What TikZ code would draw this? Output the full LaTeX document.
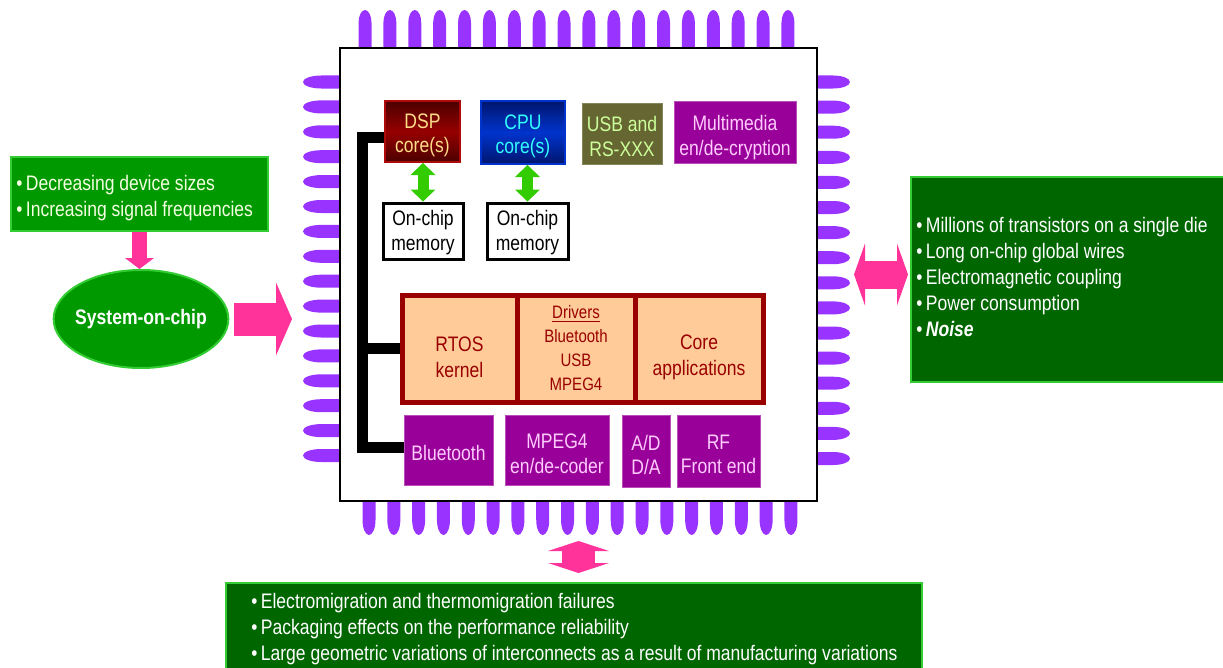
\documentclass[tikz,border=0pt]{standalone}
\usepackage{fontspec}
\setmainfont{Liberation Sans}[FakeStretch=0.835]
\usetikzlibrary{arrows.meta,shapes.geometric}

\definecolor{pinviolet}{RGB}{153,51,255}
\definecolor{dspred}{RGB}{175,10,10}
\definecolor{dspdark}{RGB}{75,0,0}
\definecolor{dspmid}{RGB}{150,0,0}
\definecolor{dsptext}{RGB}{255,221,136}
\definecolor{cpublue}{RGB}{0,51,204}
\definecolor{cpudark}{RGB}{0,22,110}
\definecolor{cputext}{RGB}{51,255,255}
\definecolor{usbolive}{RGB}{102,102,51}
\definecolor{usbtext}{RGB}{204,255,153}
\definecolor{mmpurple}{RGB}{153,0,153}
\definecolor{mmtext}{RGB}{255,204,255}
\definecolor{osorange}{RGB}{255,204,153}
\definecolor{osred}{RGB}{153,0,0}
\definecolor{memgreen}{RGB}{51,204,0}
\definecolor{hotpink}{RGB}{255,51,153}
\definecolor{leafgreen}{RGB}{0,153,0}
\definecolor{darkleaf}{RGB}{0,102,0}
\definecolor{limegreen}{RGB}{51,204,51}
\definecolor{paletext}{RGB}{245,255,225}

\begin{document}
\begin{tikzpicture}[x=0.75pt,y=0.75pt,yscale=-1,
  every node/.style={inner sep=0pt, align=center, font=\fontsize{15.75}{18.5}\selectfont},
  pin/.style={fill=pinviolet},
  chipbox/.style={draw=black, line width=1.5pt, fill=white},
  dspbox/.style={draw=dspred, line width=1.5pt, top color=dspdark, bottom color=dspdark, middle color=dspmid, text=dsptext},
  cpubox/.style={draw=cpublue, line width=1.5pt, top color=cpudark, bottom color=cpudark, middle color=cpublue, text=cputext},
  usbbox/.style={draw=usbolive!80!white, line width=0.75pt, fill=usbolive, text=usbtext},
  mmbox/.style={draw=mmpurple!70!white, line width=0.75pt, fill=mmpurple, text=mmtext},
  membox/.style={draw=black, line width=2.25pt, fill=white, text=black},
  swbox/.style={draw=osred, line width=3.75pt, fill=osorange, text=osred, minimum height=80.25pt, font=\fontsize{15.75}{19.5}\selectfont},
  trendbox/.style={draw=limegreen, line width=1.5pt, fill=leafgreen},
  issuebox/.style={draw=limegreen, line width=1.5pt, fill=darkleaf},
  listtext/.style={anchor=west, align=left, font=\fontsize{15.75}{19.5}\selectfont},
  bus/.style={draw=black, line width=8.25pt, line join=miter},
  memlink/.style={draw=memgreen, line width=8.25pt, {Triangle[width=18.75pt,length=9pt,line width=0pt 0 0]}-{Triangle[width=18.75pt,length=9pt,line width=0pt 0 0]}}
]
\useasboundingbox (0,0) rectangle (1223,667);

% pins on the four sides
\foreach \i in {0,...,17} {
  \fill[pin] ({358.5+24.88*\i},48) -- ++(0,-25) arc[start angle=180, end angle=360, x radius=6.5, y radius=13] -- ++(0,25) -- cycle;
  \fill[pin] ({362.5+24.82*\i},501) -- ++(0,19) arc[start angle=180, end angle=0, x radius=6.5, y radius=15] -- ++(0,-19) -- cycle;
}
\foreach \j in {0,...,15} {
  \fill[pin] (340,{75.5+24.9*\j}) -- ++(-19,0) arc[start angle=270, end angle=90, x radius=18, y radius=6.5] -- ++(19,0) -- cycle;
  \fill[pin] (817,{75.5+25.1*\j}) -- ++(16,0) arc[start angle=-90, end angle=90, x radius=17, y radius=6.5] -- ++(-16,0) -- cycle;
}

% chip
\node[chipbox, minimum width=357.75pt, minimum height=339.75pt] (chip) at (578.5,274.5) {};

% Text Node
\node[dspbox, minimum width=56.25pt, minimum height=45.75pt, text height=35.4pt] (dsp) at (422.5,131.5) {DSP\\core(s)};
\node[cpubox, minimum width=63pt, minimum height=47.25pt, text height=35.4pt] (cpu) at (523,132.5) {CPU\\core(s)};
\node[usbbox, minimum width=60pt, minimum height=45.75pt, text height=34.6pt] (usb) at (622,133.5) {USB and\\RS-XXX};
\node[mmbox, minimum width=91.5pt, minimum height=46.5pt, text height=38.2pt] (crypt) at (735,132) {Multimedia\\en/de-cryption};

% Text Node
\node[membox, minimum width=60pt, minimum height=42pt, text height=32.4pt] (dspmem) at (423,231) {On-chip\\memory};
\node[membox, minimum width=60.75pt, minimum height=42pt, text height=32.4pt] (cpumem) at (527.5,231) {On-chip\\memory};

% Text Node
\node[swbox, minimum width=86.25pt, text height=43.5pt] (rtos) at (459.5,348.5) {RTOS\\kernel};
\node[swbox, minimum width=88.5pt, font=\fontsize{13.5}{18}\selectfont] (drivers) at (576,348.5) {\underline{Drivers}\\Bluetooth\\USB\\MPEG4};
\node[swbox, minimum width=96pt, text height=44.5pt] (apps) at (699,348.5) {Core\\applications};

% Text Node
\node[mmbox, minimum width=66.75pt, minimum height=52.5pt, text height=15.2pt] (bt) at (448.5,450) {Bluetooth};
\node[mmbox, minimum width=78pt, minimum height=52.5pt, text height=35.4pt] (codec) at (557,450) {MPEG4\\en/de-coder};
\node[mmbox, minimum width=36pt, minimum height=54pt, text height=36pt] (adda) at (646,451) {A/D\\D/A};
\node[mmbox, minimum width=62.25pt, minimum height=54pt, text height=34.6pt] (rf) at (718.5,451) {RF\\Front end};

%Straight Lines
\coordinate (bustop) at (362,137);
\coordinate (busbot) at (362,447);
\draw[bus] (dsp.west |- bustop) -- (bustop) -- (busbot) -- (bt.west |- busbot);
\draw[bus] (rtos.west -| bustop) -- (rtos.west);

%Straight Lines
\draw[memlink] (dspmem.north |- dsp.south) -- (dspmem.north);
\draw[memlink] (cpumem.north |- cpu.south) -- (cpumem.north);

% left side
\node[trendbox, minimum width=192.75pt, minimum height=55.5pt] (trends) at (139.5,194) {};
\node[listtext, text=paletext] (trendtxt) at (16,198) {\textbullet\,Decreasing device sizes\\\textbullet\,Increasing signal frequencies};
\node[ellipse, draw=limegreen, line width=1.5pt, fill=leafgreen, inner xsep=-3pt, minimum width=130.5pt, minimum height=73.5pt, text=white] (soc) at (141,319) {\textbf{System-on-chip}};

% right side
\node[issuebox, minimum width=237.75pt, minimum height=153.75pt] (ondie) at (1069.5,279.5) {};
\node[listtext, text=white] (ondietxt) at (916,277) {\textbullet\,Millions of transistors on a single die\\\textbullet\,Long on-chip global wires\\\textbullet\,Electromagnetic coupling\\\textbullet\,Power consumption\\\textbullet\,\textbf{\textit{Noise}}};

% bottom
\node[issuebox, minimum width=522pt, minimum height=66.75pt] (package) at (574,627.5) {};
\node[listtext, text=white] (packagetxt) at (251,629) {\textbullet\,Electromigration and thermomigration failures\\\textbullet\,Packaging effects on the performance reliability\\\textbullet\,Large geometric variations of interconnects as a result of manufacturing variations};

%Straight Lines
\draw[hotpink, line width=11.25pt, -{Triangle[width=21.75pt,length=8.25pt,line width=0pt 0 0]}] (trends.south) -- (trends.south |- soc.north);
\draw[hotpink, line width=24.75pt, -{Triangle[width=54.75pt,length=12pt,line width=0pt 0 0]}, shorten <=3.75pt, shorten >=35.25pt] (soc.east) -- (soc.east -| chip.west);
\draw[hotpink, line width=21pt, {Triangle[width=46.5pt,length=8.25pt,line width=0pt 0 0]}-{Triangle[width=46.5pt,length=8.25pt,line width=0pt 0 0]}, shorten <=27pt, shorten >=1.5pt] (chip.east) -- (chip.east -| ondie.west);
\draw[hotpink, line width=24.75pt, {Triangle[width=45.75pt,length=7.5pt,line width=0pt 0 0]}-{Triangle[width=45.75pt,length=7.5pt,line width=0pt 0 0]}, shorten <=29.25pt, shorten >=6.75pt] (chip.south) -- (chip.south |- package.north);

\end{tikzpicture}
\end{document}
